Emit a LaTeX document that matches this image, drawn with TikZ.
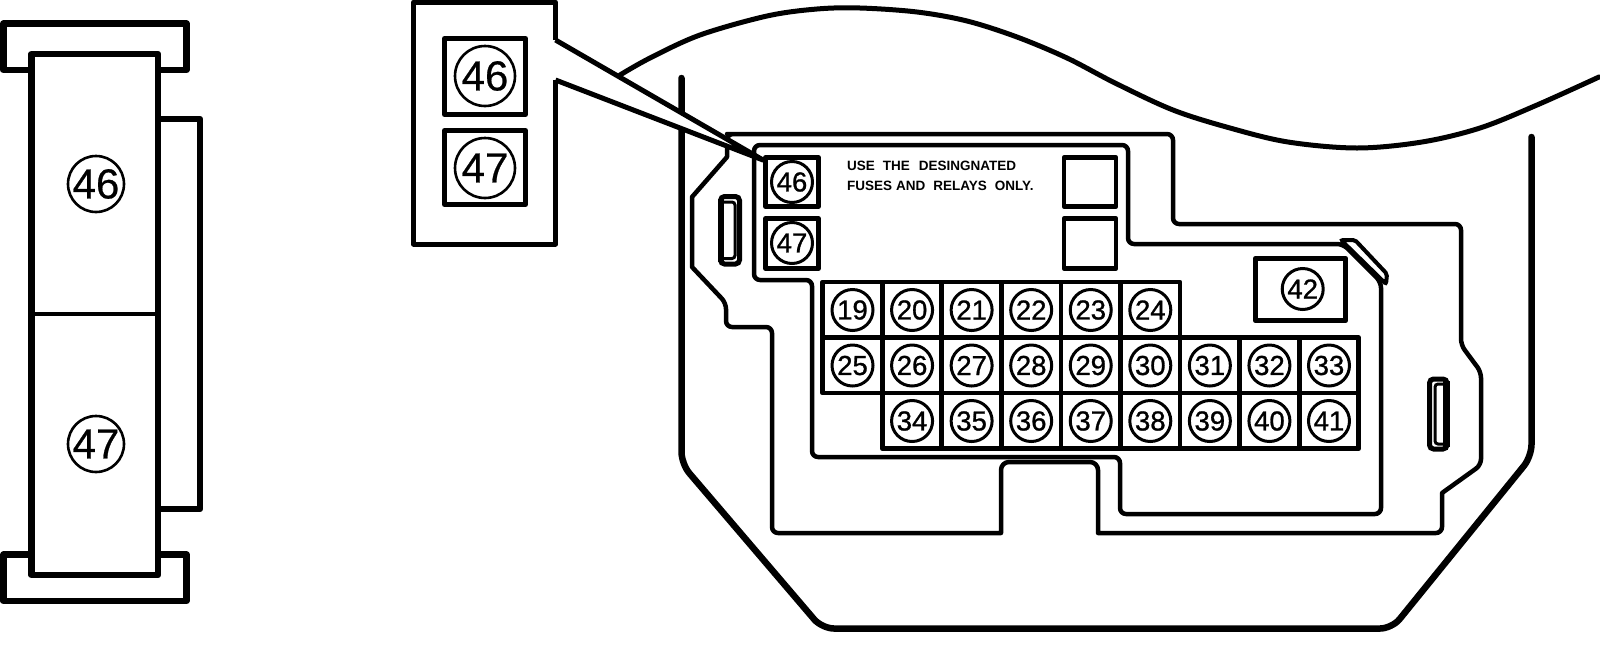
\documentclass[tikz,border=0pt]{standalone}
\usepackage{fontspec}
\setmainfont{Liberation Sans}
\usepackage{tikz}
\tikzset{
    thinline/.style={line width=4.5pt,line join=round},
    heavyline/.style={line width=6.5pt,line join=round},
    fusecell/.style={line width=4.7pt,line join=round},
    bigcall/.style={draw,circle,line width=2.6pt,minimum size=56pt,inner sep=0pt,font=\fontsize{42}{42}\selectfont\addfontfeature{FakeBold=0.6}},
    smallcall/.style={draw,circle,line width=3pt,minimum size=41pt,inner sep=0pt,font=\fontsize{27.5}{28}\selectfont\addfontfeature{FakeBold=1}},
    notetext/.style={anchor=base west,inner sep=0pt,font=\bfseries\fontsize{13.5}{14}\selectfont}
}
\begin{document}
\begin{tikzpicture}[x=1pt,y=-1pt]
            \useasboundingbox (0,0) rectangle (1600,646);
            % connector side view
            \draw[heavyline] (3.5,23.5) rectangle (186.5,70);
            \draw[heavyline] (3.5,554.5) rectangle (186.5,601);
            \draw[heavyline,fill=white] (158,119) -- (200,119) -- (200,509) -- (158,509);
            \draw[heavyline,fill=white] (31.5,54) rectangle (158,575);
            \draw[line width=4pt] (31.5,314) -- (158,314);
            \node[bigcall] (side46) at (96,184) {46};
            \node[bigcall] (side47) at (96,444) {47};
            % outer housing
            \draw[heavyline,line cap=round,rounded corners=12pt] (681.5,78) -- (681.5,464) -- (822,628.5) -- (1392,628.5) -- (1531.5,456.5) -- (1531.5,137);
            \draw[line width=5pt,line cap=round] plot[smooth,tension=.55] coordinates {(620,75) (650,58) (700,35) (767,16) (817,9) (860,8) (917,12) (967,21) (1017,37) (1067,58) (1115,83) (1173,110) (1230,128) (1288,142) (1357,148) (1422,142) (1480,128) (1537,105) (1599,77)};
            % box outlines
            \draw[thinline,rounded corners=6pt] (733,134) -- (1173,134) -- (1173,224) -- (1461,224) -- (1461,345) -- (1481,372) -- (1481,465) [sharp corners] -- (1442,493) [rounded corners=6pt] -- (1442,533) -- (1110,533) [sharp corners] -- (1098,533) -- (1098,520) [rounded corners=8pt] -- (1098,462) -- (1001,462) -- (1001,520) [sharp corners] -- (1001,533) -- (990,533) [rounded corners=6pt] -- (772,533) -- (772,327) -- (726,327) -- (726,303) [sharp corners] -- (692,267) -- (692,197) -- (727,157) [rounded corners=6pt] -- (727,134) -- cycle;
            \draw[thinline,rounded corners=6pt] (754,145) -- (1128,145) -- (1128,244) -- (1343,244) -- (1381,282) -- (1381,514) -- (1120,514) -- (1120,457) -- (812,457) -- (812,280) -- (754,280) -- cycle;
            \draw[line width=4pt,fill=white,rounded corners=2pt] (1341,240) -- (1355,240) -- (1387,274) -- (1386,284) -- cycle;
            % slots
            \draw[line width=5pt,fill=white,rounded corners=4pt] (720.5,196.5) -- (739.5,196.5) -- (739.5,264) -- (720.5,264) -- cycle;
            \draw[line width=3pt,rounded corners=3pt] (722,202) -- (735,202) -- (735,258.5) -- (722,258.5);
            \fill (718,199) rectangle (724,262);
            \draw[line width=5pt,fill=white,rounded corners=4pt] (1447,379) -- (1429.5,379) -- (1429.5,449) -- (1447,449) -- cycle;
            \draw[line width=3pt,rounded corners=3pt] (1446,384) -- (1435,384) -- (1435,444) -- (1446,444);
            \fill (1443,381) rectangle (1449.5,447);
            % zoomed inset with leader
            \draw[line width=5pt,line join=round,fill=white] (555.5,40) -- (555.5,2) -- (413.5,2) -- (413.5,244) -- (555.5,244) -- (555.5,80);
            \fill[white] (555.5,40) -- (763,160) -- (555.5,80) -- cycle;
            \draw[line width=5pt,line join=round] (555.5,40) -- (763,160) -- (555.5,80);
            \draw[line width=5pt,line join=round] (444.5,38.5) rectangle (525.5,114.5);
            \draw[line width=5pt,line join=round] (444.5,130.5) rectangle (525.5,204.5);
            \node[bigcall,minimum size=60pt] (inset46) at (485,76) {46};
            \node[bigcall,minimum size=60pt] (inset47) at (485,168) {47};
            % relay positions
            \draw[fusecell,fill=white] (765.5,157.5) rectangle (818.5,206.5);
            \draw[fusecell,fill=white] (765.5,218.5) rectangle (818.5,268.5);
            \draw[fusecell] (1064,157.5) rectangle (1116,206.5);
            \draw[fusecell] (1064,218.5) rectangle (1116,268.5);
            \node[smallcall] (call46) at (792,182) {46};
            \node[smallcall] (call47) at (792,243) {47};
            \node[notetext] (noteone) at (847,170) {USE\hspace{8pt}THE\hspace{9pt}DESINGNATED};
            \node[notetext] (notetwo) at (847,190) {FUSES\hspace{4pt}AND\hspace{8pt}RELAYS\hspace{8pt}ONLY.};
            \draw[fusecell] (1255.3,258.3) rectangle (1345.7,320.7);
            \node[smallcall] (call42) at (1302.7,289) {42};
            % fuse grid
            \foreach \n [count=\i from 0] in {19,...,24} {
                \draw[fusecell] (822.7+\i*59.56,282) rectangle ++(59.56,55.7);
                \node[smallcall] (call\n) at (852.5+\i*59.56,310) {\n};
            }
            \foreach \n [count=\i from 0] in {25,...,33} {
                \draw[fusecell] (822.7+\i*59.56,337.7) rectangle ++(59.56,55.3);
                \node[smallcall] (call\n) at (852.5+\i*59.56,365.5) {\n};
            }
            \foreach \n [count=\i from 1] in {34,...,41} {
                \draw[fusecell] (822.7+\i*59.56,393) rectangle ++(59.56,55.7);
                \node[smallcall] (call\n) at (852.5+\i*59.56,421) {\n};
            }
        \end{tikzpicture}
\end{document}
